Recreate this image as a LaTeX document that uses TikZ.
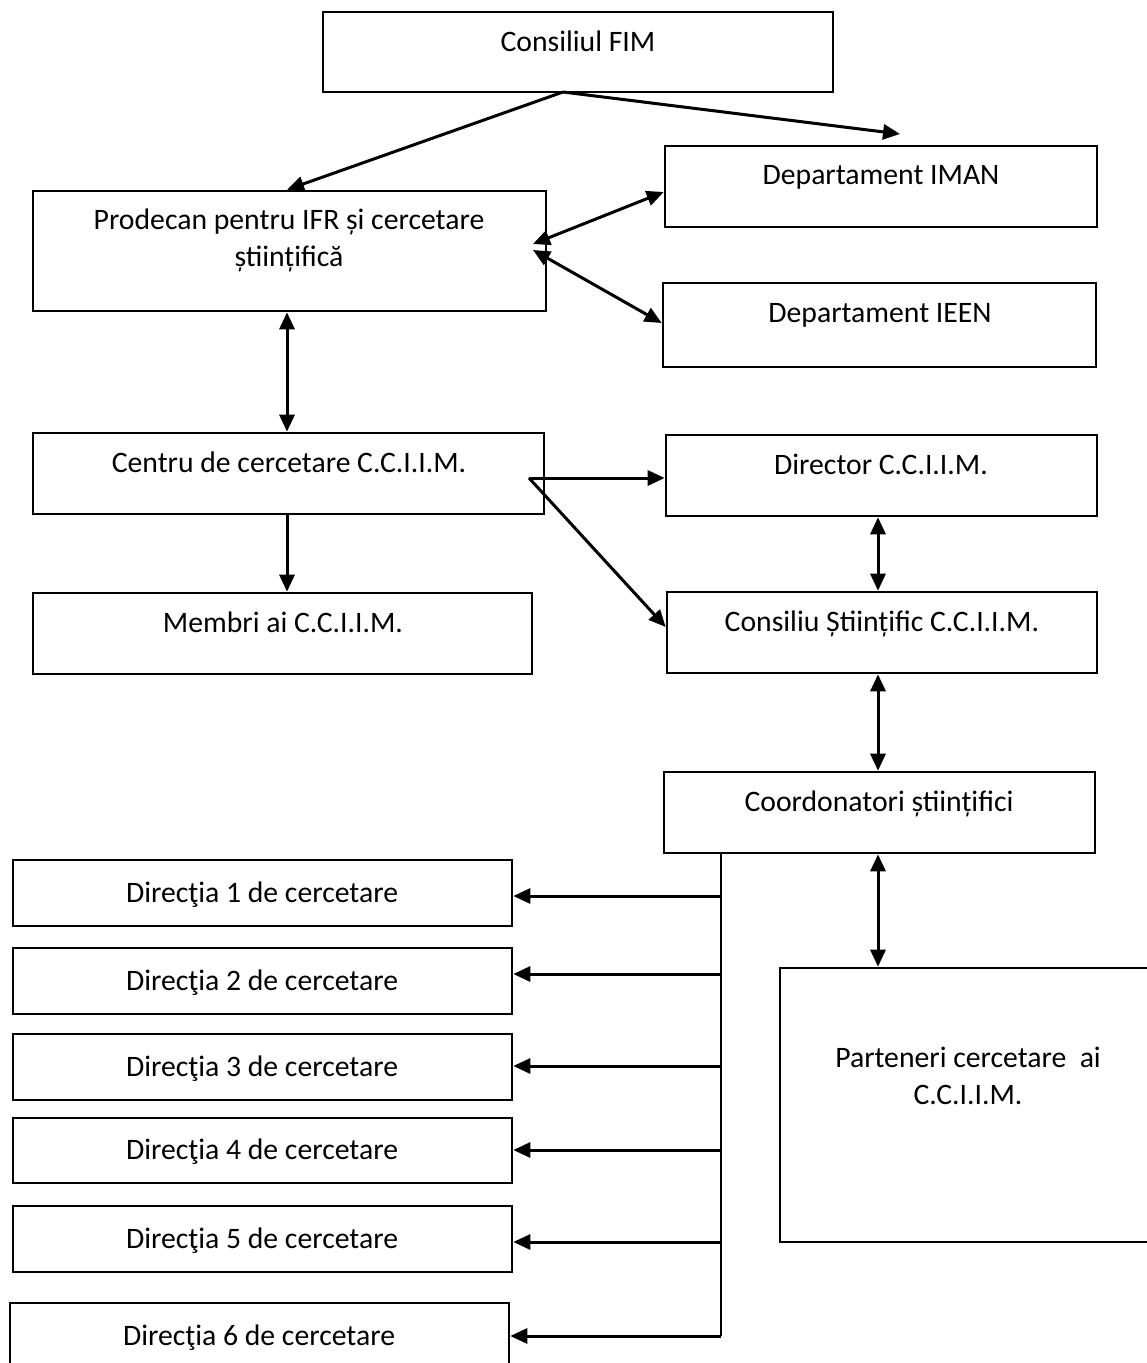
\documentclass[tikz,border=0pt]{standalone}
\usepackage{fontspec}
\setmainfont{Carlito}
\usetikzlibrary{arrows.meta,fit}
\begin{document}
\begin{tikzpicture}[x=1pt,y=-1pt,
  box/.style={draw, line width=2.6pt, inner sep=0pt},
  lbl/.style={font=\fontsize{29.7}{37}\selectfont, inner sep=0pt, align=center, text height=19pt, text depth=0pt},
  arr/.style={line width=3pt, -{Triangle[length=17pt,width=15pt]}},
  darr/.style={line width=3pt, {Triangle[length=17pt,width=15pt]}-{Triangle[length=17pt,width=15pt]}},
  bus/.style={line width=2pt}]
\useasboundingbox (0,0) rectangle (1147,1363);

% boxes
\node[box, fit={(323,12)(833,92)}] (cfim) {};
\node[box, fit={(33,191)(546,311)}] (prod) {};
\node[box, fit={(665,146)(1097,227)}] (iman) {};
\node[box, fit={(663,283)(1096,367)}] (ieen) {};
\node[box, fit={(33,433)(544,514)}] (centru) {};
\node[box, fit={(666,435)(1097,516)}] (dir) {};
\node[box, fit={(33,593)(532,674)}] (membri) {};
\node[box, fit={(667,592)(1097,673)}] (cons) {};
\node[box, fit={(664,772)(1095,853)}] (coord) {};
\node[box, fit={(780,968)(1170,1242)}] (part) {};
\node[box, fit={(13,860)(512,926)}] (d1) {};
\node[box, fit={(13,948)(512,1014)}] (d2) {};
\node[box, fit={(13,1034)(512,1100)}] (d3) {};
\node[box, fit={(13,1118)(512,1183)}] (d4) {};
\node[box, fit={(13,1206)(512,1272)}] (d5) {};
\node[box, fit={(10,1303)(509,1380)}] (d6) {};

% texts
\node[lbl] (tcfim) at (578,42) {Consiliul FIM};
\node[lbl] (tprod) at (289,257) {Prodecan pentru IFR și cercetare\\științifică};
\node[lbl] (timan) at (881,175) {Departament IMAN};
\node[lbl] (tieen) at (880,313) {Departament IEEN};
\node[lbl] (tcentru) at (289,463) {Centru de cercetare C.C.I.I.M.};
\node[lbl] (tdir) at (881,465) {Director C.C.I.I.M.};
\node[lbl] (tmembri) at (283,623) {Membri ai C.C.I.I.M.};
\node[lbl] (tcons) at (882,622) {Consiliu Științific C.C.I.I.M.};
\node[lbl] (tcoord) at (879,802) {Coordonatori științifici};
\node[lbl] (tpart) at (968,1095) {Parteneri cercetare~ ai\\C.C.I.I.M.};
\node[lbl] (td1) at (262,893) {Direcţia 1 de cercetare};
\node[lbl] (td2) at (262,981) {Direcţia 2 de cercetare};
\node[lbl] (td3) at (262,1067) {Direcţia 3 de cercetare};
\node[lbl] (td4) at (262,1150) {Direcţia 4 de cercetare};
\node[lbl] (td5) at (262,1239) {Direcţia 5 de cercetare};
\node[lbl] (td6) at (259,1336) {Direcţia 6 de cercetare};

% junction / free-end coordinates
\coordinate (cf) at (563,92);
\coordinate (imanTip) at (900,134);
\coordinate (pj1) at (533,244);
\coordinate (pj2) at (533,250);
\coordinate (cj) at (529,478);
\coordinate (b0) at (721,853);
\coordinate (b1) at (721,896);
\coordinate (b2) at (721,974);
\coordinate (b3) at (721,1066);
\coordinate (b4) at (721,1150);
\coordinate (b5) at (721,1242);
\coordinate (b6) at (721,1336);

% connectors
\draw[arr] (cf) -- (prod.north -| 287,0);
\draw[arr] (cf) -- (imanTip);
\draw[darr] (pj1) -- (iman.west |- 0,192);
\draw[darr] (pj2) -- (ieen.west |- 0,323);
\draw[darr] (prod.south -| 287,0) -- (centru.north -| 287,0);
\draw[arr] (centru.south -| 287,0) -- (membri.north -| 287,0);
\draw[arr] (cj) -- (dir.west |- cj);
\draw[arr] (cj) -- (cons.west |- 0,627);
\draw[darr] (dir.south -| 878,0) -- (cons.north -| 878,0);
\draw[darr] (cons.south -| 878,0) -- (coord.north -| 878,0);
\draw[darr] (coord.south -| 878,0) -- (part.north -| 878,0);

\draw[bus] (b0) -- (b6);
\draw[arr] (b1) -- (b1 -| d1.east);
\draw[arr] (b2) -- (b2 -| d2.east);
\draw[arr] (b3) -- (b3 -| d3.east);
\draw[arr] (b4) -- (b4 -| d4.east);
\draw[arr] (b5) -- (b5 -| d5.east);
\draw[arr] (b6) -- (b6 -| d6.east);
\end{tikzpicture}
\end{document}
